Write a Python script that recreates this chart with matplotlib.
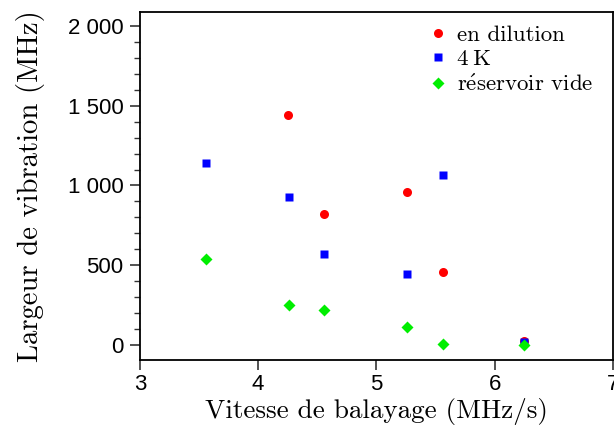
import matplotlib
matplotlib.use("Agg")
import matplotlib.pyplot as plt
from matplotlib.ticker import MultipleLocator, FuncFormatter

x_dil = [4.25, 4.56, 5.26, 5.56, 6.25]
y_dil = [1442, 821, 959, 458, 25]
x_4k = [3.56, 4.26, 4.56, 5.26, 5.56, 6.25]
y_4k = [1141, 928, 570, 445, 1066, 20]
x_vide = [3.56, 4.26, 4.56, 5.26, 5.56, 6.25]
y_vide = [539, 251, 219, 113, 5, 0]
labels = ["en dilution", "4\u2009K", r"r$\mathrm{\acute{e}}$servoir vide"]

serif = ["cmr10", "DejaVu Serif"]
plt.rcParams["axes.formatter.use_mathtext"] = True
plt.rcParams["mathtext.fontset"] = "cm"

fig = plt.figure(figsize=(6.14, 4.26), dpi=100)
ax = fig.add_axes([0.228, 0.155, 0.77, 0.817])

ax.plot(x_dil, y_dil, "o", color="#ff0000", ms=6.5, mec="none", label=labels[0])
ax.plot(x_4k, y_4k, "s", color="#0000ff", ms=6, mec="none", label=labels[1])
ax.plot(x_vide, y_vide, "D", color="#00ee00", ms=6.5, mec="none", label=labels[2])

ax.set_xlim(3, 7)
ax.set_ylim(-94, 2088)
ax.xaxis.set_major_locator(MultipleLocator(1))
ax.yaxis.set_major_locator(MultipleLocator(500))
ax.yaxis.set_minor_locator(MultipleLocator(100))

def fmt(v, pos):
    return f"{int(round(v)):,}".replace(",", " ")
ax.yaxis.set_major_formatter(FuncFormatter(fmt))
ax.xaxis.set_major_formatter(FuncFormatter(lambda v, p: f"{int(round(v))}"))

for lab in ax.get_xticklabels() + ax.get_yticklabels():
    lab.set_family("Liberation Sans")
ax.tick_params(axis="both", which="major", direction="out", length=7, width=1.3,
               labelsize=16, colors="#444444", labelcolor="black")
ax.tick_params(axis="y", which="minor", direction="out", length=4.5, width=1.0, colors="#333333")
ax.tick_params(axis="x", which="major", pad=3)
ax.tick_params(axis="y", which="major", pad=5)

for sp in ax.spines.values():
    sp.set_linewidth(1.3)

ax.set_xlabel("Vitesse de balayage (MHz/s)", family=serif, fontsize=19.5, labelpad=2)
ax.set_ylabel("Largeur de vibration (MHz)", family=serif, fontsize=20.7, labelpad=16)

leg = ax.legend(loc="upper right", bbox_to_anchor=(0.985, 1.0), frameon=False,
                prop={"family": serif, "size": 16.5},
                handletextpad=0.33, labelspacing=0.2, borderaxespad=0.15,
                handlelength=1.0, markerscale=1.0)

fig.savefig("out.png", dpi=100)
